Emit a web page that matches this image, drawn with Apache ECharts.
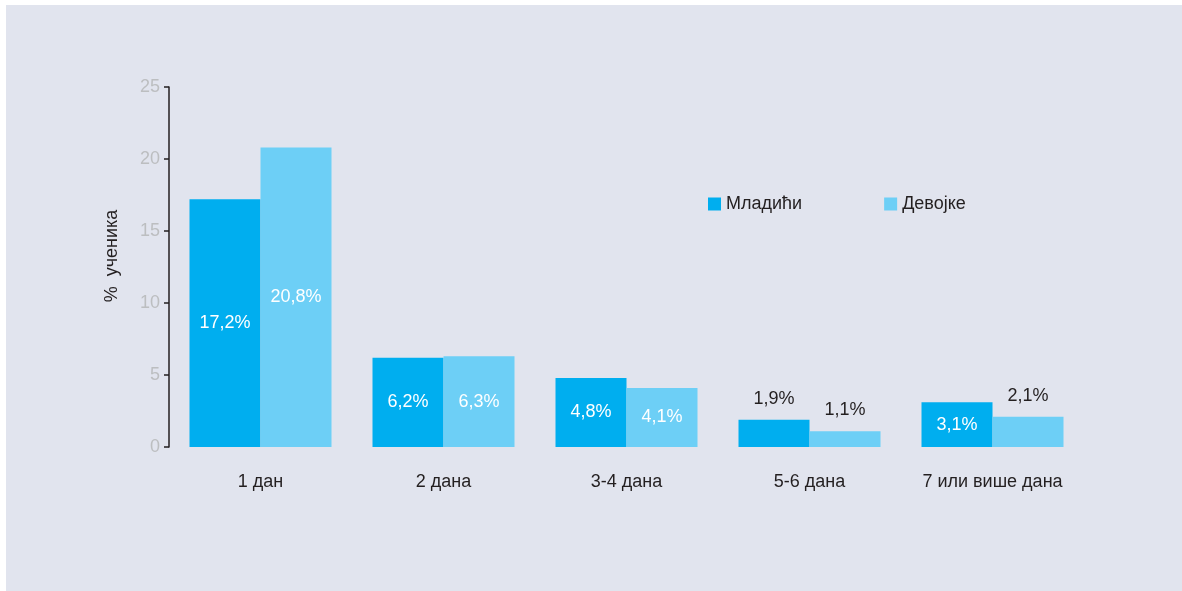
<!DOCTYPE html>
<html>
<head>
<meta charset="utf-8">
<script src="https://cdn.jsdelivr.net/npm/echarts@6/dist/echarts.min.js"></script>
<style>
  html, body { margin: 0; padding: 0; background: #ffffff; }
  #panel { position: absolute; left: 6px; top: 5px; width: 1176px; height: 586px; background: #e1e4ee; }
  #chart { position: absolute; left: 0; top: 0; width: 1182px; height: 591px; }
</style>
</head>
<body>
<div id="panel"></div>
<div id="chart"></div>
<script>
// Share of students by number of days
const categories = ['1 дан', '2 дана', '3-4 дана', '5-6 дана', '7 или више дана'];
const seriesNames = ['Младићи', 'Девојке'];
const boysValues = [17.2, 6.2, 4.8, 1.9, 3.1];
const girlsValues = [20.8, 6.3, 4.1, 1.1, 2.1];
const yTicks = [0, 5, 10, 15, 20, 25];

const colors = ['#00aeef', '#6dcff6'];
const darkText = '#231f20';
const font = 'Liberation Sans, Arial, sans-serif';

function fmt(v) { return v.toFixed(1).replace('.', ',') + '%'; }

// Tall bars carry their value inside in white; short ones above in dark text
function barData(values) {
  return values.map(v => {
    const inside = v >= 3;
    return {
      value: v,
      label: inside
        ? { position: 'inside', color: '#ffffff' }
        : { position: 'top', color: darkText, distance: 12 }
    };
  });
}

const chart = echarts.init(document.getElementById('chart'), null, { renderer: 'canvas' });
chart.setOption({
  backgroundColor: 'transparent',
  animation: false,
  textStyle: { fontFamily: font },
  legend: {
    left: 703, top: 190,
    itemWidth: 13, itemHeight: 13, itemGap: 82,
    icon: 'rect',
    textStyle: { fontSize: 18, color: darkText, fontFamily: font },
    data: seriesNames
  },
  grid: { left: 169, right: 98, top: 87, bottom: 144, containLabel: false },
  xAxis: {
    type: 'category',
    data: categories,
    axisLine: { show: false },
    axisTick: { show: false },
    axisLabel: { color: darkText, fontSize: 18, margin: 26, fontFamily: font }
  },
  yAxis: {
    type: 'value',
    min: yTicks[0], max: yTicks[yTicks.length - 1], interval: 5,
    name: '%  ученика',
    nameLocation: 'middle',
    nameGap: 48,
    nameRotate: 90,
    nameTextStyle: { color: darkText, fontSize: 18, fontFamily: font, padding: [0, 0, 0, 22] },
    axisLine: { show: true, lineStyle: { color: '#231f20', width: 1.5 } },
    axisTick: { show: true, length: 5, lineStyle: { color: '#231f20', width: 1.5 } },
    axisLabel: { color: '#bcbec0', fontSize: 18, margin: 9, fontFamily: font },
    splitLine: { show: false }
  },
  series: [
    {
      name: seriesNames[0], type: 'bar', data: barData(boysValues),
      itemStyle: { color: colors[0] }, barWidth: 71, barGap: '0%',
      label: { show: true, fontSize: 18, fontFamily: font, formatter: p => fmt(p.value) }
    },
    {
      name: seriesNames[1], type: 'bar', data: barData(girlsValues),
      itemStyle: { color: colors[1] }, barWidth: 71, barGap: '0%',
      label: { show: true, fontSize: 18, fontFamily: font, formatter: p => fmt(p.value) }
    }
  ]
});
</script>
</body>
</html>
